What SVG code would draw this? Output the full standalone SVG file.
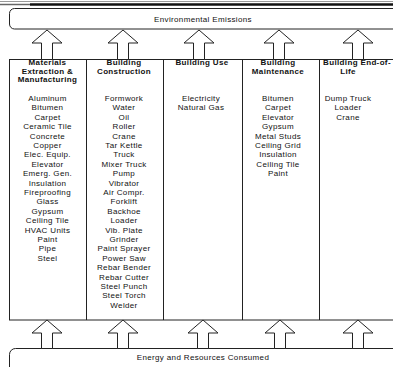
<svg xmlns="http://www.w3.org/2000/svg" width="393" height="367" viewBox="0 0 393 367">
<style>
.box{fill:#fff;stroke:#222;stroke-width:1}
.div{stroke:#222;stroke-width:1}
.arr{fill:#fff;stroke:#222;stroke-width:1;stroke-linejoin:miter}
text{font-family:"Liberation Sans",Arial,sans-serif;font-size:8px;fill:#111;text-anchor:middle;letter-spacing:0.35px}
.h{font-weight:bold}
</style>
<rect width="393" height="367" fill="#fff"/>
<line x1="0" y1="1.5" x2="393" y2="1.5" stroke="#999" stroke-width="1"/>
<line x1="30" y1="4.5" x2="393" y2="4.5" stroke="#111" stroke-width="2.5"/>
<line x1="0" y1="4.5" x2="30" y2="4.5" stroke="#666" stroke-width="1.5"/>

<g id="environmental-emissions">
<rect class="box" x="9.5" y="8.5" width="400" height="20.5" rx="5"/>
<text x="203" y="22">Environmental Emissions</text>
</g>

<g id="lifecycle-table">
<rect class="box" x="9.5" y="59.5" width="400" height="260.5"/>
<line class="div" x1="86.5" y1="59.5" x2="86.5" y2="320"/>
<line class="div" x1="163.5" y1="59.5" x2="163.5" y2="320"/>
<line class="div" x1="242.5" y1="59.5" x2="242.5" y2="320"/>
<line class="div" x1="319.5" y1="59.5" x2="319.5" y2="320"/>
</g>

<g id="materials">
<text class="h" x="47.5" y="65">Materials</text>
<text class="h" x="47.5" y="73.5">Extraction &amp;</text>
<text class="h" x="47.5" y="82">Manufacturing</text>
<text x="47.5" y="101">Aluminum</text>
<text x="47.5" y="110.4">Bitumen</text>
<text x="47.5" y="119.8">Carpet</text>
<text x="47.5" y="129.2">Ceramic Tile</text>
<text x="47.5" y="138.6">Concrete</text>
<text x="47.5" y="148">Copper</text>
<text x="47.5" y="157.4">Elec. Equip.</text>
<text x="47.5" y="166.8">Elevator</text>
<text x="47.5" y="176.2">Emerg. Gen.</text>
<text x="47.5" y="185.6">Insulation</text>
<text x="47.5" y="195">Fireproofing</text>
<text x="47.5" y="204.4">Glass</text>
<text x="47.5" y="213.8">Gypsum</text>
<text x="47.5" y="223.2">Ceiling Tile</text>
<text x="47.5" y="232.6">HVAC Units</text>
<text x="47.5" y="242">Paint</text>
<text x="47.5" y="251.4">Pipe</text>
<text x="47.5" y="260.8">Steel</text>
</g>

<g id="construction">
<text class="h" x="124" y="65">Building</text>
<text class="h" x="124" y="73.5">Construction</text>
<text x="124" y="101">Formwork</text>
<text x="124" y="110.4">Water</text>
<text x="124" y="119.8">Oil</text>
<text x="124" y="129.2">Roller</text>
<text x="124" y="138.6">Crane</text>
<text x="124" y="148">Tar Kettle</text>
<text x="124" y="157.4">Truck</text>
<text x="124" y="166.8">Mixer Truck</text>
<text x="124" y="176.2">Pump</text>
<text x="124" y="185.6">Vibrator</text>
<text x="124" y="195">Air Compr.</text>
<text x="124" y="204.4">Forklift</text>
<text x="124" y="213.8">Backhoe</text>
<text x="124" y="223.2">Loader</text>
<text x="124" y="232.6">Vib. Plate</text>
<text x="124" y="242">Grinder</text>
<text x="124" y="251.4">Paint Sprayer</text>
<text x="124" y="260.8">Power Saw</text>
<text x="124" y="270.2">Rebar Bender</text>
<text x="124" y="279.6">Rebar Cutter</text>
<text x="124" y="289">Steel Punch</text>
<text x="124" y="298.4">Steel Torch</text>
<text x="124" y="307.8">Welder</text>
</g>

<g id="use">
<text class="h" x="202" y="65">Building Use</text>
<text x="201" y="101">Electricity</text>
<text x="201" y="110.4">Natural Gas</text>
</g>

<g id="maintenance">
<text class="h" x="278" y="65">Building</text>
<text class="h" x="278" y="73.5">Maintenance</text>
<text x="278" y="101">Bitumen</text>
<text x="278" y="110.4">Carpet</text>
<text x="278" y="119.8">Elevator</text>
<text x="278" y="129.2">Gypsum</text>
<text x="278" y="138.6">Metal Studs</text>
<text x="278" y="148">Ceiling Grid</text>
<text x="278" y="157.4">Insulation</text>
<text x="278" y="166.8">Ceiling Tile</text>
<text x="278" y="176.2">Paint</text>
</g>

<g id="end-of-life">
<text class="h" x="357" y="65">Building End-of-</text>
<text class="h" x="348" y="73.5">Life</text>
<text x="348" y="101">Dump Truck</text>
<text x="348" y="110.4">Loader</text>
<text x="348" y="119.8">Crane</text>
</g>

<g id="energy-resources">
<rect class="box" x="9.5" y="348.5" width="400" height="40" rx="6"/>
<text x="203" y="360">Energy and Resources Consumed</text>
</g>

<g id="connectors">
<polygon class="arr" points="47,30 62,43 52.5,43 52.5,59.5 41.5,59.5 41.5,43 32,43"/>
<polygon class="arr" points="123,30 138,43 128.5,43 128.5,59.5 117.5,59.5 117.5,43 108,43"/>
<polygon class="arr" points="199,30 214,43 204.5,43 204.5,59.5 193.5,59.5 193.5,43 184,43"/>
<polygon class="arr" points="279,30 294,43 284.5,43 284.5,59.5 273.5,59.5 273.5,43 264,43"/>
<polygon class="arr" points="358,30 373,43 363.5,43 363.5,59.5 352.5,59.5 352.5,43 343,43"/>
<polygon class="arr" points="47,320 62,333 52.5,333 52.5,348.5 41.5,348.5 41.5,333 32,333"/>
<polygon class="arr" points="123,320 138,333 128.5,333 128.5,348.5 117.5,348.5 117.5,333 108,333"/>
<polygon class="arr" points="203,320 218,333 208.5,333 208.5,348.5 197.5,348.5 197.5,333 188,333"/>
<polygon class="arr" points="280,320 295,333 285.5,333 285.5,348.5 274.5,348.5 274.5,333 265,333"/>
<polygon class="arr" points="358,320 373,333 363.5,333 363.5,348.5 352.5,348.5 352.5,333 343,333"/>
</g>
</svg>
